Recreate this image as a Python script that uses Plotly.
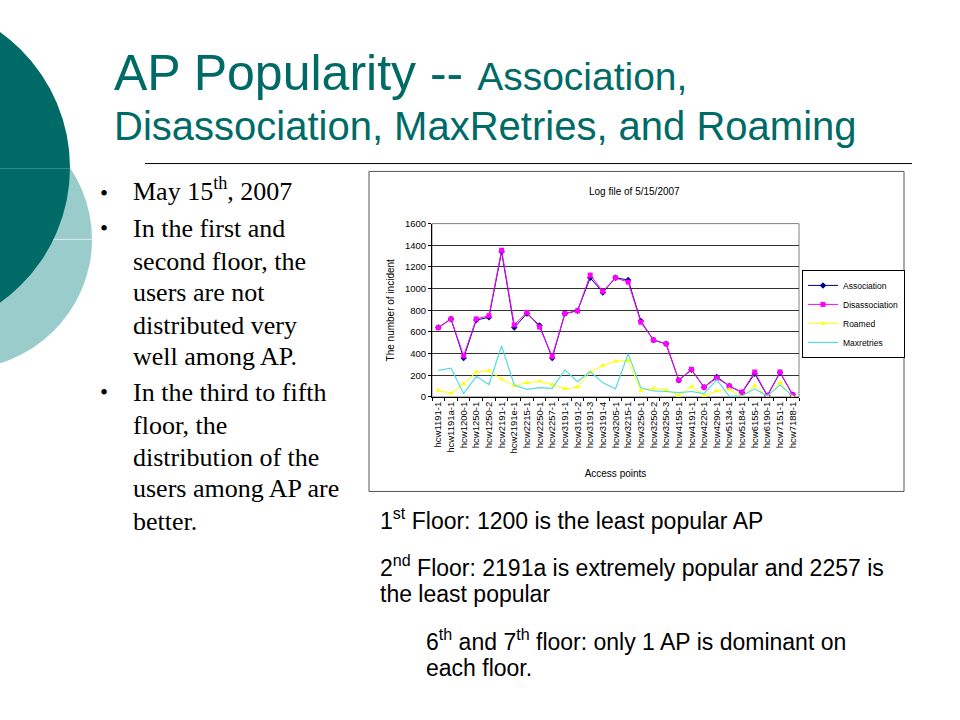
import plotly.graph_objects as go

# ---------------- data ----------------
access_points = ["hcw1191-1", "hcw1191a-1", "hcw1200-1", "hcw1250-1", "hcw1250-2",
                 "hcw2191-1", "hcw2191e-1", "hcw2215-1", "hcw2250-1", "hcw2257-1",
                 "hcw3191-1", "hcw3191-2", "hcw3191-3", "hcw3191-4", "hcw3205-1",
                 "hcw3215-1", "hcw3250-1", "hcw3250-2", "hcw3250-3", "hcw4159-1",
                 "hcw4191-1", "hcw4220-1", "hcw4290-1", "hcw5134-1", "hcw5184-1",
                 "hcw6155-1", "hcw6190-1", "hcw7151-1", "hcw7188-1"]
association = [640, 720, 360, 710, 735, 1340, 640, 770, 660, 360,
               770, 795, 1100, 965, 1100, 1080, 700, 525, 490, 155,
               250, 90, 185, 100, 40, 215, 10, 225, 20]
disassociation = [640, 720, 380, 720, 750, 1355, 665, 780, 645, 375,
                  770, 795, 1125, 975, 1100, 1060, 690, 525, 490, 155,
                  255, 90, 175, 100, 45, 230, 15, 230, 20]
roamed = [60, 35, 120, 230, 240, 165, 105, 130, 145, 115,
          75, 90, 230, 290, 330, 335, 60, 80, 65, 10,
          95, 10, 55, 70, 0, 105, 0, 130, 0]
maxretries = [245, 265, 30, 190, 115, 470, 110, 70, 85, 80,
              250, 140, 235, 130, 75, 400, 85, 55, 50, 40,
              50, 30, 160, 5, 10, 75, 10, 110, 10]
y_ticks = [0, 200, 400, 600, 800, 1000, 1200, 1400, 1600]

W, H = 960, 720
def px(x):
    return x / W
def py(y):
    return 1 - y / H

TEAL = "#006B66"
LIGHT = "#9ACCCC"
SANS = "Liberation Sans, Arial, sans-serif"
SERIF = "Liberation Serif, Times New Roman, serif"

fig = go.Figure()
series = [
    ("Association", association, "#000080", "diamond", 5),
    ("Disassociation", disassociation, "#FF00FF", "square", 5),
    ("Roamed", roamed, "#FFFF00", "triangle-up", 5),
    ("Maxretries", maxretries, "#55DDDD", None, 0),
]
for name, vals, col, sym, size in series:
    if sym:
        fig.add_trace(go.Scatter(x=access_points, y=vals, name=name, mode="lines+markers",
                                 line=dict(color=col, width=1),
                                 marker=dict(symbol=sym, size=size, color=col)))
    else:
        fig.add_trace(go.Scatter(x=access_points, y=vals, name=name, mode="lines",
                                 line=dict(color=col, width=1.2)))

shapes = [
    # slide decoration
    dict(type="circle", xref="paper", yref="paper", layer="below",
         x0=px(-172), x1=px(92), y0=py(105), y1=py(369),
         fillcolor=LIGHT, line=dict(width=0)),
    dict(type="line", xref="paper", yref="paper", layer="below",
         x0=px(0), x1=px(92), y0=py(237), y1=py(237),
         line=dict(color="#D8ECEC", width=1)),
    dict(type="circle", xref="paper", yref="paper", layer="below",
         x0=px(-270), x1=px(70), y0=py(-6), y1=py(334),
         fillcolor=TEAL, line=dict(width=0)),
    dict(type="line", xref="paper", yref="paper", layer="below",
         x0=px(0), x1=px(70), y0=py(165), y1=py(165),
         line=dict(color="#3A8A86", width=1)),
    # title rule
    dict(type="line", xref="paper", yref="paper",
         x0=px(145), x1=px(912), y0=py(160), y1=py(160),
         line=dict(color="#000000", width=1)),
    # chart frame
    dict(type="rect", xref="paper", yref="paper", layer="below",
         x0=px(369), x1=px(904), y0=py(168), y1=py(493),
         line=dict(color="#555555", width=1), fillcolor="white"),
]

ann = []
# slide title
ann.append(dict(text="AP Popularity -- <span style='font-size:39px'>Association,</span>",
                x=px(112), y=py(68), xanchor="left", yanchor="middle",
                font=dict(family=SANS, size=50, color=TEAL)))
ann.append(dict(text="Disassociation, MaxRetries, and Roaming",
                x=px(112), y=py(122), xanchor="left", yanchor="middle",
                font=dict(family=SANS, size=40, color=TEAL)))
# bullets
bullet_lines = [
    (186, "May 15<sup>th</sup>, 2007", True),
    (226, "In the first and", True),
    (259, "second floor, the", False),
    (291, "users are not", False),
    (324, "distributed very", False),
    (356, "well among AP.", False),
    (393, "In the third to fifth", True),
    (426, "floor, the", False),
    (458, "distribution of the", False),
    (490, "users among AP are", False),
    (523, "better.", False),
]
for yy, txt, bul in bullet_lines:
    ann.append(dict(text=txt, x=px(131), y=py(yy), xanchor="left", yanchor="middle",
                    font=dict(family=SERIF, size=26, color="black")))
    if bul:
        ann.append(dict(text="•", x=px(98), y=py(yy + (4 if "<sup>" in txt else 0)),
                        xanchor="left", yanchor="middle",
                        font=dict(family=SERIF, size=23, color="black")))
# notes under the chart
notes = [
    (378, 521, "1<sup>st</sup> Floor: 1200 is the least popular AP"),
    (378, 569, "2<sup>nd</sup> Floor: 2191a is extremely popular and 2257 is"),
    (378, 597, "the least popular"),
    (424, 644, "6<sup>th</sup> and 7<sup>th</sup> floor: only 1 AP is dominant on"),
    (424, 672, "each floor."),
]
for xx, yy, txt in notes:
    ann.append(dict(text=txt, x=px(xx), y=py(yy), xanchor="left", yanchor="middle",
                    font=dict(family=SANS, size=23, color="black")))
# chart title
ann.append(dict(text="Log file of 5/15/2007", x=px(634), y=py(188), xanchor="center",
                yanchor="middle", font=dict(family=SANS, size=10, color="black")))
for a in ann:
    a.update(xref="paper", yref="paper", showarrow=False)

fig.update_layout(
    width=W, height=H, margin=dict(l=0, r=0, t=0, b=0),
    paper_bgcolor="white", plot_bgcolor="#C0C0C0",
    shapes=shapes, annotations=ann,
    showlegend=True,
    legend=dict(x=px(802), y=py(268), xanchor="left", yanchor="top",
                bgcolor="white", bordercolor="black", borderwidth=1,
                font=dict(family=SANS, size=8.5, color="black"),
                itemwidth=30, tracegroupgap=0),
    xaxis=dict(domain=[px(432), px(799)], type="category", range=[-0.5, 28.5],
               tickangle=-90, tickfont=dict(family=SANS, size=9.5, color="black"),
               showline=True, linecolor="black", linewidth=1, mirror=False,
               ticks="outside", ticklen=3, tickcolor="black", tickson="boundaries",
               showgrid=False,
               title=dict(text="Access points", font=dict(family=SANS, size=10, color="black"),
                          standoff=17)),
    yaxis=dict(domain=[py(397), py(221)], range=[0, 1600], tickvals=y_ticks,
               tickfont=dict(family=SANS, size=9.5, color="black"),
               showline=True, linecolor="black", linewidth=1,
               ticks="outside", ticklen=3, tickcolor="black",
               showgrid=True, gridcolor="#333333", gridwidth=1, zeroline=False,
               title=dict(text="The number of incident",
                          font=dict(family=SANS, size=10, color="black"), standoff=8)),
)
# light grey border on the top/right of the plot area
fig.add_shape(type="rect", xref="x domain", yref="y domain", x0=0, x1=1, y0=0, y1=1,
              line=dict(color="#808080", width=1), layer="below")

fig.write_html("out.html", config={"displayModeBar": False},
               post_script="document.body.style.margin='0';")
